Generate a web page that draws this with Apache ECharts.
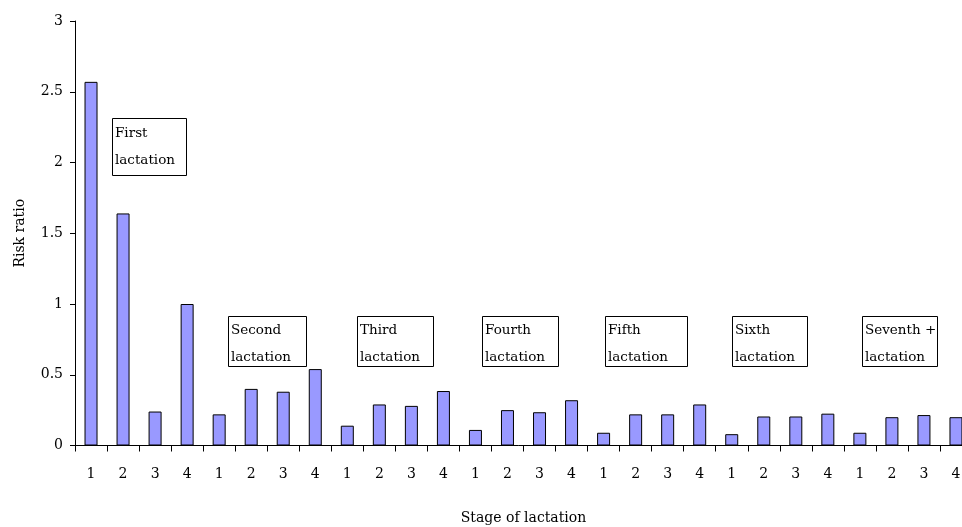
<!DOCTYPE html>
<html>
<head>
<meta charset="utf-8">
<script src="https://cdn.jsdelivr.net/npm/echarts@6/dist/echarts.min.js"></script>
<style>html,body{margin:0;padding:0;background:#fff}#chart{width:962px;height:527px}</style>
</head>
<body>
<div id="chart"></div>
<script>
const lactations = ['First', 'Second', 'Third', 'Fourth', 'Fifth', 'Sixth', 'Seventh +'];
const stages = ['1', '2', '3', '4'];
const firstLact = [2.57, 1.64, 0.24, 1.00];
const secondLact = [0.22, 0.40, 0.38, 0.54];
const thirdLact = [0.14, 0.29, 0.28, 0.385];
const fourthLact = [0.11, 0.25, 0.235, 0.32];
const fifthLact = [0.09, 0.22, 0.22, 0.29];
const sixthLact = [0.08, 0.205, 0.205, 0.225];
const seventhLact = [0.09, 0.20, 0.215, 0.20];
const yTicks = [0, 0.5, 1, 1.5, 2, 2.5, 3];

const groups = [firstLact, secondLact, thirdLact, fourthLact, fifthLact, sixthLact, seventhLact];
const categories = [];
const stageLabels = [];
const values = [];
groups.forEach((g, gi) => {
  g.forEach((v, si) => {
    categories.push(lactations[gi] + '-' + stages[si]);
    stageLabels.push(stages[si]);
    values.push(v);
  });
});

const FONT = '"DejaVu Serif", serif';
const chart = echarts.init(document.getElementById('chart'));

// annotation boxes [left, top, width, height]
const boxes = [
  [112, 118, 74, 57],
  [228, 316, 78, 50],
  [357, 316, 76, 50],
  [482, 316, 76, 50],
  [605, 316, 82, 50],
  [732, 316, 75, 50],
  [862, 316, 75, 50]
];
const graphic = [];
boxes.forEach((b, i) => {
  graphic.push({
    type: 'rect', left: b[0], top: b[1], z: 100,
    shape: { x: 0, y: 0, width: b[2], height: b[3] },
    style: { fill: '#fff', stroke: '#000', lineWidth: 1 }
  });
  graphic.push({
    type: 'text', left: b[0] + 3, top: b[1] + (i === 0 ? 2 : 1), z: 101,
    style: { text: lactations[i] + '\nlactation', font: '13.5px ' + FONT, fill: '#000', lineHeight: 27 }
  });
});

chart.setOption({
  animation: false,
  backgroundColor: '#fff',
  grid: { left: 75, top: 21, width: 897, bottom: 81.5, containLabel: false, outerBoundsMode: 'none' },
  xAxis: {
    type: 'category',
    data: categories,
    name: 'Stage of lactation',
    nameLocation: 'middle',
    nameGap: 66,
    nameTextStyle: { fontFamily: FONT, fontSize: 14, color: '#000' },
    axisLine: { lineStyle: { color: '#000', width: 1 } },
    axisTick: { show: true, length: 6, lineStyle: { color: '#000' }, alignWithLabel: false },
    axisLabel: { margin: 22, fontFamily: FONT, fontSize: 14, color: '#000', interval: 0,
      formatter: (v, idx) => stageLabels[idx] },
    splitLine: { show: false }
  },
  yAxis: {
    type: 'value',
    min: yTicks[0],
    max: yTicks[yTicks.length - 1],
    interval: 0.5,
    name: 'Risk ratio',
    nameLocation: 'middle',
    nameGap: 48,
    nameTextStyle: { fontFamily: FONT, fontSize: 14, color: '#000' },
    axisLine: { show: true, lineStyle: { color: '#000', width: 1 } },
    axisTick: { show: true, length: 5, lineStyle: { color: '#000' } },
    axisLabel: { margin: 12, fontFamily: FONT, fontSize: 14, color: '#000' },
    splitLine: { show: false }
  },
  series: [{
    type: 'bar',
    data: values,
    barWidth: 13,
    itemStyle: { color: '#9999ff', borderColor: '#000', borderWidth: 1 }
  }],
  graphic: graphic
});
</script>
</body>
</html>
